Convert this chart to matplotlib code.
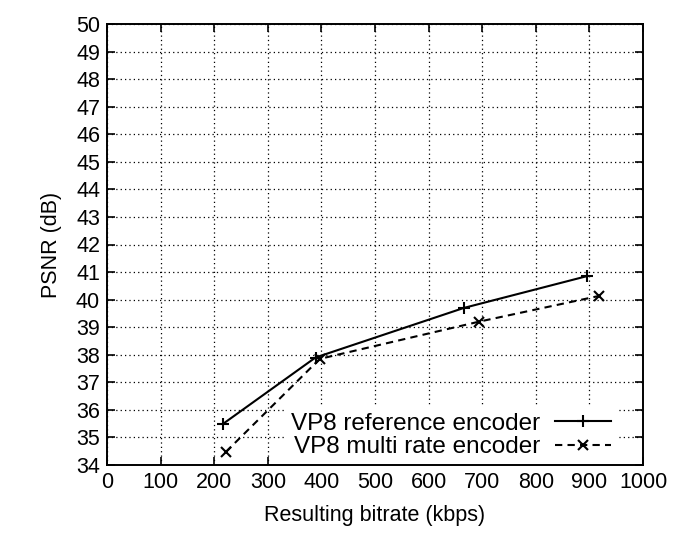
import matplotlib.pyplot as plt

plt.rcParams['font.family'] = ['Liberation Sans', 'DejaVu Sans']

# bitrate (kbps) vs PSNR (dB)
ref_bitrate = [217, 389, 666, 895]
ref_psnr = [35.5, 37.9, 39.7, 40.85]
multi_bitrate = [222, 397, 694, 917]
multi_psnr = [34.48, 37.85, 39.2, 40.13]

xticks = list(range(0, 1001, 100))
yticks = list(range(34, 51))

fig = plt.figure(figsize=(6.78, 5.42), dpi=100)
ax = fig.add_axes([107 / 678, 1 - 465 / 542, 536 / 678, 441 / 542])

ax.plot(ref_bitrate, ref_psnr, color='black', linewidth=1.5, marker='+',
        markersize=8, markeredgewidth=1.5, label='VP8 reference encoder')
ax.plot(multi_bitrate, multi_psnr, color='black', linewidth=1.5, linestyle=(0, (3.5, 2.5)),
        marker='x', markersize=6.5, markeredgewidth=1.5, label='VP8 multi rate encoder')

ax.set_xlim(0, 1000)
ax.set_ylim(34, 50)
ax.set_xticks(xticks)
ax.set_yticks(yticks)
ax.tick_params(direction='in', length=6, width=1.2, labelsize=15.5,
               top=True, right=True, pad=5)
ax.grid(True, color='black', linestyle=(0, (1, 2.5)), linewidth=0.9)
for s in ax.spines.values():
    s.set_linewidth(1.4)

ax.set_xlabel('Resulting bitrate (kbps)', fontsize=15.5, labelpad=9)
ax.set_ylabel('PSNR (dB)', fontsize=15.5, labelpad=10)

leg = ax.legend(loc='lower right', bbox_to_anchor=(0.963, -0.012), markerfirst=False,
                frameon=True, fontsize=17.5, handlelength=2.3, handletextpad=0.6,
                borderaxespad=0.2, labelspacing=0.05, fancybox=False, edgecolor='none',
                facecolor='white', framealpha=1.0, borderpad=0.3)
leg.set_zorder(2.4)  # keep the axis frame and ticks drawn on top

fig.savefig('out.png', dpi=100)
